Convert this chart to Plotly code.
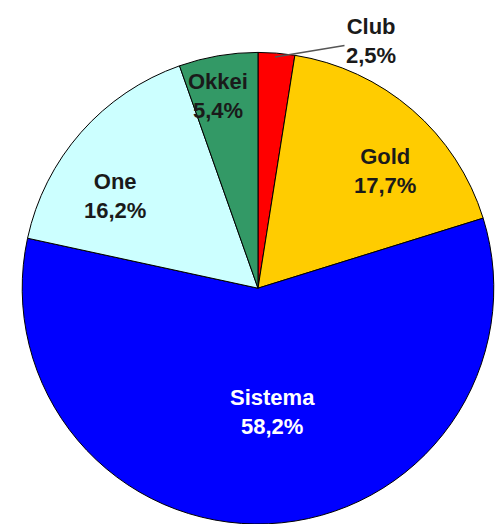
import plotly.graph_objects as go

labels = ["Club", "Gold", "Sistema", "One", "Okkei"]
values = [2.5, 17.7, 58.2, 16.2, 5.4]
colors = ["#FF0000", "#FFCC00", "#0000FF", "#CCFFFF", "#339966"]
text_colors = ["#1a1a1a", "#1a1a1a", "#FFFFFF", "#1a1a1a", "#1a1a1a"]
# label block centres in pixels (x, y from top)
label_pos = [(371, 41), (385, 171), (272, 412), (115, 196), (218, 96)]

W, H = 501, 524

fig = go.Figure(go.Pie(
    labels=labels,
    values=values,
    sort=False,
    direction="clockwise",
    rotation=0,
    marker=dict(colors=colors, line=dict(color="#000000", width=1)),
    textinfo="none",
    hoverinfo="label+percent",
    domain=dict(x=[0.0419, 0.988], y=[0.0, 0.9]),
))

annotations = []
for lab, val, tc, (px, py) in zip(labels, values, text_colors, label_pos):
    txt = f"{lab}<br>{val:.1f}%".replace(".", ",")
    ann = dict(
        text=txt, xref="paper", yref="paper",
        xanchor="center", yanchor="middle", align="center",
        font=dict(family="Liberation Sans, Arial", size=22, color=tc, weight="bold"),
        showarrow=False,
    )
    if lab == "Club":
        tip = (275, 57)
        ann.update(
            x=tip[0] / W, y=1 - tip[1] / H,
            showarrow=True, arrowhead=0, arrowwidth=1.5, arrowcolor="#555555",
            ax=px - tip[0], ay=py - tip[1], standoff=0,
        )
    else:
        ann.update(x=px / W, y=1 - py / H)
    annotations.append(ann)

fig.update_layout(
    width=W, height=H,
    margin=dict(l=0, r=0, t=0, b=0),
    paper_bgcolor="white",
    plot_bgcolor="white",
    showlegend=False,
    separators=",.",
    annotations=annotations,
)

fig.write_html("out.html")
